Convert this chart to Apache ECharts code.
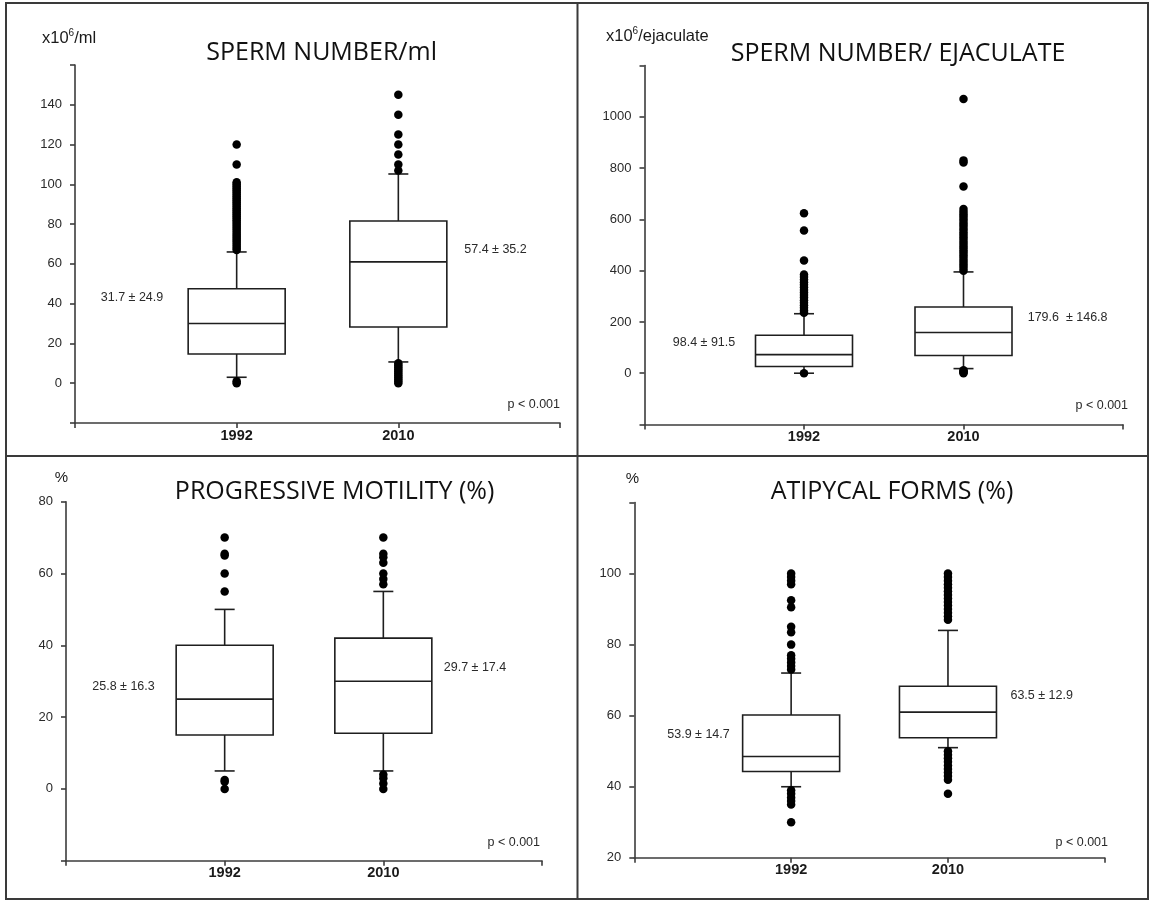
<!DOCTYPE html>
<html><head><meta charset="utf-8">
<script src="https://cdn.jsdelivr.net/npm/echarts@6/dist/echarts.min.js"></script>
<style>html,body{margin:0;padding:0;background:#fff}#c{width:1149px;height:900px}</style>
</head><body><div id="c"></div>
<script>
// ---------------- DATA ----------------
const categories = ['1992', '2010'];
// box statistics per category: [lower whisker, Q1, median, Q3, upper whisker]
const perMlStats = [[3, 14.7, 30, 47.5, 66], [10.7, 28.3, 61, 81.6, 105.2]];
const perMlOut1992 = [0, 1, 67, 68, 69, 70, 71, 72, 73, 74, 75, 76, 77, 78, 79, 80, 81, 82, 83, 84, 85, 86, 87, 88, 89, 90, 91, 92, 93, 94, 95, 96, 97, 98, 99, 100, 101, 110, 120];
const perMlOut2010 = [0, 1, 2, 3, 4, 5, 6, 7, 8, 9, 10, 107, 110, 115, 120, 125, 135, 145];

const perEjStats = [[0, 26, 72.5, 148, 232], [18, 69, 159, 258, 395]];
const perEjOut1992 = [0, 236, 245, 255, 265, 275, 285, 295, 305, 315, 325, 335, 345, 355, 365, 375, 385, 440, 557, 624];
const perEjOut2010 = [0, 4, 8, 12, 400, 410, 420, 430, 440, 450, 460, 470, 480, 490, 500, 510, 520, 530, 540, 550, 560, 570, 580, 590, 600, 610, 620, 630, 640, 728, 822, 830, 1069];

const motilityStats = [[5, 15, 25, 40, 50], [5, 15.5, 30, 42, 55]];
const motilityOut1992 = [0, 2, 2.5, 55, 60, 65, 65.5, 70];
const motilityOut2010 = [0, 1.5, 3, 4, 57, 58.5, 60, 63, 64.5, 65.5, 70];

const atypicalStats = [[40, 44.3, 48.5, 60.2, 72], [51, 53.8, 61, 68.3, 84]];
const atypicalOut1992 = [30, 35, 36, 37, 38, 39, 73, 74, 75, 76, 77, 80, 83.5, 85, 90.5, 92.5, 97, 98, 99, 100];
const atypicalOut2010 = [38, 42, 43, 44, 45, 46, 47, 48, 49, 50, 87, 88, 89, 90, 91, 92, 93, 94, 95, 96, 97, 98, 99, 100];

const titles = ['SPERM NUMBER/ml', 'SPERM NUMBER/ EJACULATE', 'PROGRESSIVE MOTILITY (%)', 'ATIPYCAL FORMS (%)'];
const meanSd = [['31.7 \u00b1 24.9', '57.4 \u00b1 35.2'], ['98.4 \u00b1 91.5', '179.6  \u00b1 146.8'], ['25.8 \u00b1 16.3', '29.7 \u00b1 17.4'], ['53.9 \u00b1 14.7', '63.5 \u00b1 12.9']];
const pValue = 'p < 0.001';
// y axis scale: [min, max, interval, first labelled tick, last labelled tick]
const yScales = [[-20, 160, 20, 0, 140], [-200, 1200, 200, 0, 1000], [-20, 80, 20, 0, 80], [20, 120, 20, 20, 100]];

// ---------------- LAYOUT (styles only) ----------------
const grids = [
  {left: 75, top: 65, width: 485, height: 358},
  {left: 644.5, top: 65.5, width: 478.5, height: 359},
  {left: 66, top: 501.7, width: 476, height: 359},
  {left: 634.3, top: 502.5, width: 470.5, height: 355.3}
];
const titlePos = [[321.6, 53.3], [898, 54], [334.6, 491.7], [892, 491.7]];
const meanPos = [[[132, 298], [495.5, 249.3]], [[704, 342.7], [1067.6, 317.7]], [[123.5, 686.7], [475, 667.3]], [[698.5, 735], [1041.7, 696]]];
const pPos = [[560, 405], [1128, 405.7], [540, 842.3], [1108, 842.3]];

const panels = [
  {stats: perMlStats, out: [perMlOut1992, perMlOut2010]},
  {stats: perEjStats, out: [perEjOut1992, perEjOut2010]},
  {stats: motilityStats, out: [motilityOut1992, motilityOut2010]},
  {stats: atypicalStats, out: [atypicalOut1992, atypicalOut2010]}
];

const INK = '#1e1e1e';
const AXIS = '#3c3c3c';
const BOX_HALF = 48.5, CAP_HALF = 10;

function renderBox(params, api) {
  const x = api.value(0);
  const lo = api.coord([x, api.value(1)]);
  const q1 = api.coord([x, api.value(2)]);
  const md = api.coord([x, api.value(3)]);
  const q3 = api.coord([x, api.value(4)]);
  const hi = api.coord([x, api.value(5)]);
  const st = {stroke: INK, lineWidth: 1.6, fill: null};
  const cx = q1[0];
  return {type: 'group', children: [
    {type: 'line', shape: {x1: cx, y1: lo[1], x2: cx, y2: q1[1]}, style: st},
    {type: 'line', shape: {x1: cx - CAP_HALF, y1: lo[1], x2: cx + CAP_HALF, y2: lo[1]}, style: st},
    {type: 'line', shape: {x1: cx, y1: q3[1], x2: cx, y2: hi[1]}, style: st},
    {type: 'line', shape: {x1: cx - CAP_HALF, y1: hi[1], x2: cx + CAP_HALF, y2: hi[1]}, style: st},
    {type: 'rect', shape: {x: cx - BOX_HALF, y: q3[1], width: BOX_HALF * 2, height: q1[1] - q3[1]}, style: {stroke: INK, lineWidth: 1.6, fill: '#fff'}},
    {type: 'line', shape: {x1: cx - BOX_HALF, y1: md[1], x2: cx + BOX_HALF, y2: md[1]}, style: st}
  ]};
}

const xAxes = [], yAxes = [], series = [];
panels.forEach((p, i) => {
  const ys = yScales[i];
  xAxes.push({
    gridIndex: i, type: 'value', min: 0, max: categories.length + 1, interval: 1,
    axisLine: {onZero: false, lineStyle: {color: AXIS, width: 1.6}},
    axisTick: {show: true, length: 5, lineStyle: {color: AXIS, width: 1.6}},
    splitLine: {show: false},
    axisLabel: {margin: 5, fontFamily: 'Liberation Sans', fontSize: 14.5, fontWeight: 'bold', color: '#1a1a1a',
      formatter: v => categories[v - 1] || ''}
  });
  yAxes.push({
    gridIndex: i, type: 'value', min: ys[0], max: ys[1], interval: ys[2],
    axisLine: {show: true, onZero: false, lineStyle: {color: AXIS, width: 1.6}},
    axisTick: {show: true, length: 5, lineStyle: {color: AXIS, width: 1.6}},
    splitLine: {show: false},
    axisLabel: {margin: 13, fontFamily: 'Liberation Sans', fontSize: 13, color: '#2a2a2a',
      formatter: v => (v >= ys[3] && v <= ys[4]) ? String(v) : ''}
  });
  series.push({
    type: 'custom', xAxisIndex: i, yAxisIndex: i, z: 2, silent: true,
    renderItem: renderBox,
    data: categories.map((c, k) => [k + 1].concat(p.stats[k]))
  });
  const pts = [];
  p.out.forEach((arr, k) => arr.forEach(v => pts.push([k + 1, v])));
  series.push({
    type: 'scatter', xAxisIndex: i, yAxisIndex: i, z: 3, silent: true,
    symbol: 'circle', symbolSize: 8.5, itemStyle: {color: '#000', opacity: 1},
    data: pts
  });
});

const graphic = [];
function txt(x, y, text, o) {
  graphic.push({type: 'text', silent: true, x: x, y: y, style: Object.assign({
    text: text, fill: '#2a2a2a', font: '12px "Liberation Sans"', align: 'center', verticalAlign: 'middle'}, o || {})});
}
titles.forEach((t, i) => txt(titlePos[i][0], titlePos[i][1], t, {font: '25px "Open Sans"', fill: '#111'}));
meanSd.forEach((pair, i) => pair.forEach((t, k) => txt(meanPos[i][k][0], meanPos[i][k][1], t, {font: '12.5px "Liberation Sans"'})));
pPos.forEach(pp => txt(pp[0], pp[1], pValue, {align: 'right', font: '12.5px "Liberation Sans"'}));
const unitRich = {a: {fontSize: 16.5, fontFamily: 'Liberation Sans', fill: '#1a1a1a', lineHeight: 20},
                  s: {fontSize: 10, fontFamily: 'Liberation Sans', fill: '#1a1a1a', verticalAlign: 'top', lineHeight: 13}};
txt(42, 38, '{a|x10}{s|6}{a|/ml}', {align: 'left', rich: unitRich});
txt(606, 36.7, '{a|x10}{s|6}{a|/ejaculate}', {align: 'left', rich: unitRich});
txt(61.5, 477.7, '%', {font: '15px "Liberation Sans"', fill: '#1a1a1a'});
txt(632.5, 479, '%', {font: '15px "Liberation Sans"', fill: '#1a1a1a'});
// panel frame
const fr = {stroke: '#3a3a3a', lineWidth: 2, fill: null};
graphic.push({type: 'rect', silent: true, shape: {x: 6, y: 3, width: 1142, height: 896}, style: fr});
graphic.push({type: 'line', silent: true, shape: {x1: 577.5, y1: 3, x2: 577.5, y2: 899}, style: fr});
graphic.push({type: 'line', silent: true, shape: {x1: 6, y1: 456, x2: 1148, y2: 456}, style: fr});

const chart = echarts.init(document.getElementById('c'), null, {renderer: 'canvas'});
chart.setOption({
  animation: false,
  backgroundColor: '#fff',
  grid: grids,
  xAxis: xAxes,
  yAxis: yAxes,
  series: series,
  graphic: graphic
});
</script></body></html>
